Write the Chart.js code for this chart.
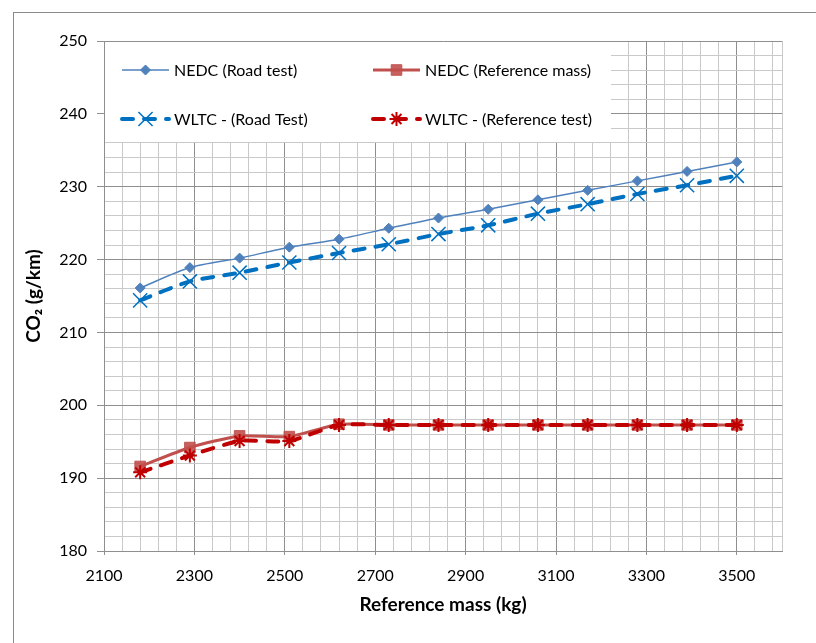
<!DOCTYPE html>
<html>
<head>
<meta charset="utf-8">
<script src="https://cdn.jsdelivr.net/npm/chart.js@4.4.1/dist/chart.umd.min.js"></script>
<style>
  html, body { margin: 0; padding: 0; background: #fff; }
  canvas { display: block; }
</style>
</head>
<body>
<canvas id="co2Chart" width="816" height="643"></canvas>
<script>
// Chart data
const massKg = [2180, 2290, 2400, 2510, 2620, 2730, 2840, 2950, 3060, 3170, 3280, 3390, 3500];
const nedcRoad = [216.1, 218.9, 220.2, 221.7, 222.8, 224.3, 225.7, 226.9, 228.2, 229.5, 230.8, 232.1, 233.4];
const nedcRef = [191.6, 194.2, 195.8, 195.7, 197.4, 197.3, 197.3, 197.3, 197.3, 197.3, 197.3, 197.3, 197.3];
const wltcRoad = [214.4, 217.0, 218.2, 219.6, 220.9, 222.1, 223.5, 224.7, 226.3, 227.6, 229.0, 230.2, 231.5];
const wltcRef = [190.8, 193.1, 195.1, 195.1, 197.3, 197.3, 197.3, 197.3, 197.3, 197.3, 197.3, 197.3, 197.3];
const seriesNames = ['NEDC (Road test)', 'NEDC (Reference mass)', 'WLTC - (Road Test)', 'WLTC - (Reference test)'];
const xMajorTicks = [2100, 2300, 2500, 2700, 2900, 3100, 3300, 3500];
const yMajorTicks = [180, 190, 200, 210, 220, 230, 240, 250];

const FONT = "Lato, 'Open Sans', sans-serif";
const MAJOR_GRID = '#8f8f8f';
const MINOR_GRID = '#c9c9c9';

const toPoints = ys => massKg.map((x, i) => ({ x: x, y: ys[i] }));

// white page + outer chart frame
const framePlugin = {
    id: 'frame',
    beforeDraw(chart) {
        const ctx = chart.ctx;
        ctx.save();
        ctx.fillStyle = '#fff';
        ctx.fillRect(0, 0, chart.width, chart.height);
        ctx.strokeStyle = '#8a8a8a';
        ctx.lineWidth = 1;
        ctx.strokeRect(13.5, 12.5, 1000, 1000);
        ctx.restore();
    }
};

// Excel style legend: white box in the top left of the plot, 2 x 2 entries
const boxLegendPlugin = {
    id: 'boxLegend',
    afterDraw(chart) {
        const ctx = chart.ctx;
        const area = chart.chartArea;
        ctx.save();
        ctx.fillStyle = '#fff';
        ctx.fillRect(area.left + 1, area.top + 1, 506, 100);

        const slots = [
            { lx: 122, ly: 70 },
            { lx: 373, ly: 70 },
            { lx: 122, ly: 119 },
            { lx: 373, ly: 119 }
        ];
        chart.data.datasets.forEach((ds, i) => {
            const s = slots[i];
            const len = 47;
            ctx.save();
            ctx.strokeStyle = ds.borderColor;
            ctx.lineWidth = ds.borderWidth;
            ctx.lineCap = ds.borderCapStyle || 'butt';
            ctx.setLineDash(ds.borderDash || []);
            ctx.beginPath();
            ctx.moveTo(s.lx, s.ly);
            ctx.lineTo(s.lx + len, s.ly);
            ctx.stroke();
            ctx.restore();

            ctx.save();
            ctx.fillStyle = ds.pointBackgroundColor;
            ctx.strokeStyle = ds.pointBorderColor;
            ctx.lineWidth = ds.pointBorderWidth;
            Chart.helpers.drawPoint(ctx, {
                pointStyle: ds.pointStyle,
                radius: ds.pointRadius,
                rotation: 0,
                borderWidth: ds.pointBorderWidth
            }, s.lx + len / 2, s.ly);
            ctx.restore();

            ctx.fillStyle = '#000';
            ctx.font = '16px ' + FONT;
            ctx.textBaseline = 'middle';
            ctx.textAlign = 'left';
            ctx.fillText(seriesNames[i], s.lx + len + 5, s.ly + 1);
        });
        ctx.restore();
    }
};

const ctx = document.getElementById('co2Chart').getContext('2d');
new Chart(ctx, {
    type: 'line',
    data: {
        datasets: [{
            label: seriesNames[0],
            data: toPoints(nedcRoad),
            borderColor: '#4f81bd',
            borderWidth: 1.5,
            pointStyle: 'rectRot',
            pointRadius: 5,
            pointBackgroundColor: '#4f81bd',
            pointBorderColor: '#4f81bd',
            pointBorderWidth: 1,
            tension: 0.25,
            order: 2
        }, {
            label: seriesNames[1],
            data: toPoints(nedcRef),
            borderColor: '#c0504d',
            borderWidth: 3,
            pointStyle: 'rect',
            pointRadius: 7.5,
            pointBackgroundColor: 'rgba(192, 80, 77, 0.9)',
            pointBorderColor: 'rgba(192, 80, 77, 0.9)',
            pointBorderWidth: 1,
            tension: 0.2,
            order: 3
        }, {
            label: seriesNames[2],
            data: toPoints(wltcRoad),
            borderColor: '#0070c0',
            borderWidth: 4,
            borderDash: [11, 11],
            borderCapStyle: 'round',
            pointStyle: 'crossRot',
            pointRadius: 10,
            pointBackgroundColor: '#0070c0',
            pointBorderColor: '#0070c0',
            pointBorderWidth: 1.5,
            tension: 0.25,
            order: 1
        }, {
            label: seriesNames[3],
            data: toPoints(wltcRef),
            borderColor: '#c00000',
            borderWidth: 4,
            borderDash: [11, 11],
            borderCapStyle: 'round',
            pointStyle: 'star',
            pointRadius: 7,
            pointBackgroundColor: '#c00000',
            pointBorderColor: '#c00000',
            pointBorderWidth: 2,
            tension: 0.2,
            order: 0
        }]
    },
    options: {
        responsive: false,
        animation: false,
        layout: { padding: { left: 13, top: 41, right: 34, bottom: 0 } },
        plugins: {
            legend: { display: false },
            tooltip: { enabled: false }
        },
        scales: {
            x: {
                type: 'linear',
                min: 2100,
                max: 3600,
                afterBuildTicks: scale => {
                    const ticks = [];
                    for (let v = 2100; v < 3600; v += 40) ticks.push({ value: v });
                    ticks.push({ value: 3600 });
                    scale.ticks = ticks;
                },
                afterFit: scale => { scale.height = 92; },
                grid: {
                    color: c => (c.tick && xMajorTicks.includes(c.tick.value)) ? MAJOR_GRID : MINOR_GRID,
                    tickColor: c => (c.tick && xMajorTicks.includes(c.tick.value)) ? MAJOR_GRID : 'rgba(0,0,0,0)',
                    tickLength: 4
                },
                border: { color: MAJOR_GRID },
                ticks: {
                    autoSkip: false,
                    maxRotation: 0,
                    padding: 11,
                    color: '#000',
                    font: { family: FONT, size: 16 },
                    callback: v => xMajorTicks.includes(v) ? String(v) : ''
                },
                title: {
                    display: true,
                    text: 'Reference mass (kg)',
                    color: '#000',
                    font: { family: FONT, size: 19, weight: 'bold' },
                    padding: { top: 0, bottom: 27 }
                }
            },
            y: {
                min: 180,
                max: 250,
                afterFit: scale => { scale.width = 91; },
                grid: {
                    color: c => (c.tick && yMajorTicks.includes(c.tick.value)) ? MAJOR_GRID : MINOR_GRID,
                    tickColor: c => (c.tick && yMajorTicks.includes(c.tick.value)) ? MAJOR_GRID : 'rgba(0,0,0,0)',
                    tickLength: 7
                },
                border: { color: MAJOR_GRID },
                ticks: {
                    stepSize: 2,
                    autoSkip: false,
                    padding: 10,
                    color: '#000',
                    font: { family: FONT, size: 16 },
                    callback: v => yMajorTicks.includes(v) ? String(v) : ''
                },
                title: {
                    display: true,
                    text: 'CO\u2082 (g/km)',
                    color: '#000',
                    font: { family: FONT, size: 19, weight: 'bold' },
                    padding: { top: 9, bottom: 0 }
                }
            }
        }
    },
    plugins: [framePlugin, boxLegendPlugin]
});
</script>
</body>
</html>
